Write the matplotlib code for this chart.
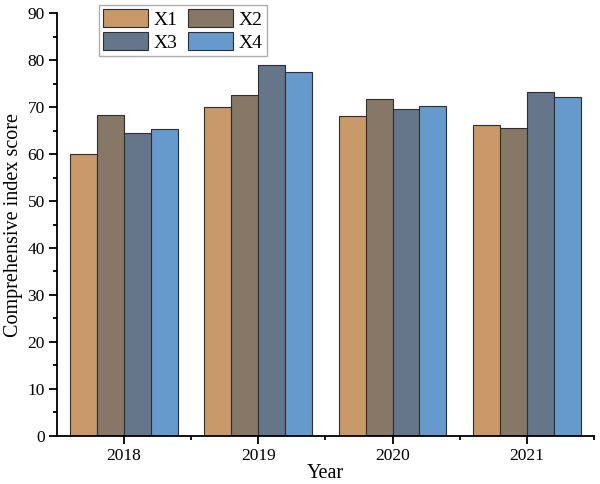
import numpy as np
import matplotlib
matplotlib.use("Agg")
import matplotlib.pyplot as plt
from matplotlib.ticker import MultipleLocator, FixedLocator

plt.rcParams['font.family'] = ['Liberation Serif', 'DejaVu Serif']

years = ['2018', '2019', '2020', '2021']
series = ['X1', 'X2', 'X3', 'X4']
x1 = [60.0, 70.0, 68.1, 66.1]
x2 = [68.3, 72.5, 71.7, 65.5]
x3 = [64.4, 78.9, 69.6, 73.3]
x4 = [65.3, 77.6, 70.3, 72.1]
colors = ['#C9996A', '#877766', '#65758A', '#6699CC']

fig = plt.figure(figsize=(6, 4.84), dpi=100)
ax = fig.add_axes([0.0945, 0.0998, 0.8955, 0.8727])

x = np.arange(len(years))
w = 0.2
bars = []
for i, (vals, c, name) in enumerate(zip([x1, x2, x3, x4], colors, series)):
    b = ax.bar(x + (i - 1.5) * w, vals, w, color=c, edgecolor='#2e2e2e',
               linewidth=0.8, label=name)
    bars.append(b)

ax.set_xlim(-0.5, 3.5)
ax.set_ylim(0, 90)
ax.set_xticks(x)
ax.set_xticklabels(years)
ax.xaxis.set_minor_locator(FixedLocator([0.5, 1.5, 2.5, 3.5]))
ax.yaxis.set_major_locator(MultipleLocator(10))
ax.yaxis.set_minor_locator(MultipleLocator(5))
ax.tick_params(which='major', direction='out', length=5.5, width=1.3, labelsize=12.5, pad=3)
ax.tick_params(which='minor', direction='out', length=3, width=1.3)
for s in ['top', 'right']:
    ax.spines[s].set_visible(False)
for s in ['left', 'bottom']:
    ax.spines[s].set_linewidth(1.3)

ax.set_xlabel('Year', fontsize=14.5, labelpad=0)
ax.set_ylabel('Comprehensive index score', fontsize=14.5, labelpad=3)

# legend rows read X1 X2 / X3 X4, matplotlib fills by column
handles = [bars[0], bars[2], bars[1], bars[3]]
labels = ['X1', 'X3', 'X2', 'X4']
leg = ax.legend(handles, labels, ncol=2, loc='upper left', bbox_to_anchor=(0.079, 1.019),
                fontsize=14, frameon=True, fancybox=False, edgecolor='#999999',
                handlelength=2.3, handleheight=1.05, columnspacing=0.55,
                handletextpad=0.3, borderpad=0.2, labelspacing=0.18, borderaxespad=0)
leg.get_frame().set_linewidth(1.0)

fig.savefig('out.png', dpi=100)
